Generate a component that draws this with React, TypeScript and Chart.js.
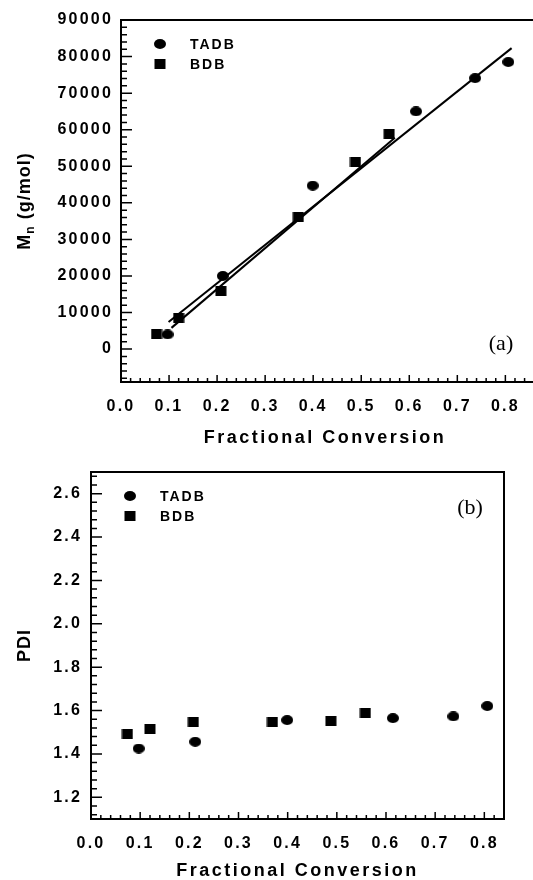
import React, { useEffect, useRef } from "react";
import { Chart, registerables } from "chart.js";

Chart.register(...registerables);

// ---- data ----
const conversionTADB = [0.097, 0.212, 0.399, 0.614, 0.737, 0.806];
const conversionBDB = [0.074, 0.12, 0.208, 0.369, 0.488, 0.558];
const mnTADB = [4000, 20000, 44700, 65000, 74100, 78500];
const mnBDB = [4000, 8500, 16000, 36100, 51100, 58800];
const pdiTADB = [1.425, 1.456, 1.556, 1.565, 1.573, 1.621];
const pdiBDB = [1.493, 1.514, 1.545, 1.545, 1.554, 1.591];

// linear fit lines (end points as drawn)
const fitTADBx = [0.099, 0.813];
const fitTADBy = [7420, 82300];
const fitBDBx = [0.105, 0.57];
const fitBDBy = [5800, 57800];

// tick labels
const xTickValues = [0, 0.1, 0.2, 0.3, 0.4, 0.5, 0.6, 0.7, 0.8];
const xTickLabels = ["0.0", "0.1", "0.2", "0.3", "0.4", "0.5", "0.6", "0.7", "0.8"];
const mnTickValues = [0, 10000, 20000, 30000, 40000, 50000, 60000, 70000, 80000, 90000];
const mnTickLabels = ["0", "10000", "20000", "30000", "40000", "50000", "60000", "70000", "80000", "90000"];
const pdiTickValues = [1.2, 1.4, 1.6, 1.8, 2.0, 2.2, 2.4, 2.6];
const pdiTickLabels = ["1.2", "1.4", "1.6", "1.8", "2.0", "2.2", "2.4", "2.6"];

const seriesNames = ["TADB", "BDB"];

const SANS = '"Liberation Sans", Arial, Helvetica, sans-serif';
const SERIF = '"Liberation Serif", "Times New Roman", serif';

function makeMarker(kind: string) {
  const c = document.createElement("canvas");
  c.width = 12;
  c.height = 10;
  const ctx = c.getContext("2d")!;
  ctx.fillStyle = "#000";
  if (kind === "ellipse") {
    ctx.beginPath();
    ctx.ellipse(6, 5, 6, 5, 0, 0, Math.PI * 2);
    ctx.fill();
  } else {
    ctx.fillRect(0.5, 0, 11, 10);
  }
  return c;
}

type DecorCfg = {
  xMinor: number;
  xMajorEvery: number;
  yMinor: number;
  yMajorEvery: number;
  fullFrame: boolean;
  xTitleDy: number;
  yTitleX: number;
  yTitle: "mn" | "pdi";
  panel: string;
  panelPos: (a: any) => [number, number];
  legendDx: number;
  legendTop: number;
  markers: HTMLCanvasElement[];
  xTitleCx?: number;
};

function decorPlugin(cfg: DecorCfg) {
  return {
    id: "decor",
    beforeDraw(chart: any) {
      (chart.ctx as any).letterSpacing = "2.2px";
    },
    afterDraw(chart: any) {
      const ctx = chart.ctx as CanvasRenderingContext2D;
      const a = chart.chartArea;
      const xs = chart.scales.x;
      const ys = chart.scales.y;
      ctx.save();
      ctx.strokeStyle = "#000";
      ctx.lineWidth = 2;
      ctx.beginPath();
      if (cfg.fullFrame) {
        ctx.rect(a.left, a.top, a.right - a.left, a.bottom - a.top);
      } else {
        ctx.moveTo(a.right + 5, a.top);
        ctx.lineTo(a.left, a.top);
        ctx.lineTo(a.left, a.bottom);
        ctx.lineTo(a.right + 5, a.bottom);
      }
      ctx.stroke();

      // ticks (inward)
      ctx.lineWidth = 1.5;
      ctx.beginPath();
      const kx0 = Math.ceil(xs.min / cfg.xMinor - 1e-6);
      const kx1 = Math.floor(xs.max / cfg.xMinor + 1e-6);
      for (let k = kx0; k <= kx1; k++) {
        const px = xs.getPixelForValue(k * cfg.xMinor);
        const len = k % cfg.xMajorEvery === 0 ? 7 : 4;
        ctx.moveTo(px, a.bottom);
        ctx.lineTo(px, a.bottom - len);
      }
      const ky0 = Math.ceil(ys.min / cfg.yMinor - 1e-6);
      const ky1 = Math.floor(ys.max / cfg.yMinor + 1e-6);
      for (let k = ky0; k <= ky1; k++) {
        const py = ys.getPixelForValue(k * cfg.yMinor);
        const len = k % cfg.yMajorEvery === 0 ? 11 : 6;
        ctx.moveTo(a.left, py);
        ctx.lineTo(a.left + len, py);
      }
      ctx.stroke();

      // x title
      ctx.fillStyle = "#000";
      (ctx as any).letterSpacing = "2.5px";
      ctx.font = `bold 18px ${SANS}`;
      ctx.textAlign = "center";
      ctx.textBaseline = "middle";
      const cx = cfg.xTitleCx !== undefined ? cfg.xTitleCx : (a.left + a.right) / 2;
      ctx.fillText("Fractional Conversion", cx, a.bottom + cfg.xTitleDy);

      // y title
      ctx.save();
      ctx.translate(cfg.yTitleX, (a.top + a.bottom) / 2);
      ctx.rotate(-Math.PI / 2);
      ctx.textAlign = "left";
      (ctx as any).letterSpacing = "1px";
      if (cfg.yTitle === "mn") {
        ctx.font = `bold 18px ${SANS}`;
        const wM = ctx.measureText("M").width;
        const rest = " (g/mol)";
        const wR = ctx.measureText(rest).width;
        ctx.font = `bold 12px ${SANS}`;
        const wn = ctx.measureText("n").width;
        const total = wM + wn + wR;
        let x = -total / 2;
        ctx.font = `bold 18px ${SANS}`;
        ctx.fillText("M", x, 0);
        x += wM;
        ctx.font = `bold 12px ${SANS}`;
        ctx.fillText("n", x, 6);
        x += wn;
        ctx.font = `bold 18px ${SANS}`;
        ctx.fillText(rest, x, 0);
      } else {
        ctx.font = `bold 18px ${SANS}`;
        ctx.textAlign = "center";
        ctx.fillText("PDI", 0, 0);
      }
      ctx.restore();

      // legend
      (ctx as any).letterSpacing = "2px";
      ctx.font = `bold 14px ${SANS}`;
      ctx.textAlign = "left";
      ctx.textBaseline = "middle";
      seriesNames.forEach((name, i) => {
        const my = a.top + cfg.legendTop + i * 20;
        const mk = cfg.markers[i];
        ctx.drawImage(mk, a.left + cfg.legendDx - mk.width / 2, my - mk.height / 2);
        ctx.fillText(name, a.left + cfg.legendDx + 30, my + 1);
      });

      // panel label
      (ctx as any).letterSpacing = "0px";
      ctx.font = `22px ${SERIF}`;
      ctx.textAlign = "center";
      const [plx, ply] = cfg.panelPos(a);
      ctx.fillText(cfg.panel, plx, ply);
      ctx.restore();
      (ctx as any).letterSpacing = "0px";
    },
  };
}

const tickFont = { family: SANS, size: 16, weight: "bold" as const };

export default function App() {
  const topRef = useRef<HTMLCanvasElement>(null);
  const botRef = useRef<HTMLCanvasElement>(null);

  useEffect(() => {
    const ell = makeMarker("ellipse");
    const sq = makeMarker("square");

    const scatterDs = (label: string, xs: number[], ys: number[], img: HTMLCanvasElement) => ({
      label,
      data: xs.map((x, i) => ({ x, y: ys[i] })),
      pointStyle: img,
      pointRadius: 6,
      showLine: false,
      backgroundColor: "#000",
      borderColor: "#000",
    });
    const lineDs = (label: string, xs: number[], ys: number[]) => ({
      label,
      data: xs.map((x, i) => ({ x, y: ys[i] })),
      showLine: true,
      pointRadius: 0,
      borderColor: "#000",
      borderWidth: 2,
      fill: false,
    });

    const top = new Chart(topRef.current!, {
      type: "scatter",
      data: {
        datasets: [
          lineDs("TADB fit", fitTADBx, fitTADBy),
          lineDs("BDB fit", fitBDBx, fitBDBy),
          scatterDs("TADB", conversionTADB, mnTADB, ell),
          scatterDs("BDB", conversionBDB, mnBDB, sq),
        ] as any,
      },
      options: {
        animation: false,
        responsive: false,
        events: [],
        layout: { padding: { top: 20, right: 21, left: 0, bottom: 0 } },
        plugins: { legend: { display: false }, tooltip: { enabled: false } },
        scales: {
          x: {
            type: "linear",
            min: 0,
            max: 0.87,
            afterBuildTicks: (s: any) => {
              s.ticks = xTickValues.map((v) => ({ value: v }));
            },
            afterFit: (s: any) => {
              s.height = 78;
            },
            grid: { display: false, drawTicks: false },
            border: { display: false },
            ticks: {
              autoSkip: false,
              maxRotation: 0,
              padding: 15,
              color: "#000",
              font: tickFont,
              callback: (_v: any, i: number) => xTickLabels[i],
            },
          },
          y: {
            type: "linear",
            min: -9000,
            max: 90000,
            afterBuildTicks: (s: any) => {
              s.ticks = mnTickValues.map((v) => ({ value: v }));
            },
            afterFit: (s: any) => {
              s.width = 121;
            },
            grid: { display: false, drawTicks: false },
            border: { display: false },
            ticks: {
              autoSkip: false,
              padding: 8,
              color: "#000",
              font: tickFont,
              callback: (_v: any, i: number) => mnTickLabels[i],
            },
          },
        },
      } as any,
      plugins: [
        decorPlugin({
          xMinor: 0.02,
          xMajorEvery: 5,
          yMinor: 2000,
          yMajorEvery: 5,
          fullFrame: false,
          xTitleDy: 56,
          yTitleX: 25,
          yTitle: "mn",
          panel: "(a)",
          panelPos: (a) => [a.left + 380, a.bottom - 38],
          legendDx: 39,
          legendTop: 24,
          markers: [ell, sq],
          xTitleCx: 325,
        }) as any,
      ],
    });

    const bot = new Chart(botRef.current!, {
      type: "scatter",
      data: {
        datasets: [
          scatterDs("TADB", conversionTADB, pdiTADB, ell),
          scatterDs("BDB", conversionBDB, pdiBDB, sq),
        ] as any,
      },
      options: {
        animation: false,
        responsive: false,
        events: [],
        layout: { padding: { top: 32, right: 29, left: 0, bottom: 0 } },
        plugins: { legend: { display: false }, tooltip: { enabled: false } },
        scales: {
          x: {
            type: "linear",
            min: 0,
            max: 0.84,
            afterBuildTicks: (s: any) => {
              s.ticks = xTickValues.map((v) => ({ value: v }));
            },
            afterFit: (s: any) => {
              s.height = 61;
            },
            grid: { display: false, drawTicks: false },
            border: { display: false },
            ticks: {
              autoSkip: false,
              maxRotation: 0,
              padding: 15,
              color: "#000",
              font: tickFont,
              callback: (_v: any, i: number) => xTickLabels[i],
            },
          },
          y: {
            type: "linear",
            min: 1.1,
            max: 2.7,
            afterBuildTicks: (s: any) => {
              s.ticks = pdiTickValues.map((v) => ({ value: v }));
            },
            afterFit: (s: any) => {
              s.width = 91;
            },
            grid: { display: false, drawTicks: false },
            border: { display: false },
            ticks: {
              autoSkip: false,
              padding: 9,
              color: "#000",
              font: tickFont,
              callback: (_v: any, i: number) => pdiTickLabels[i],
            },
          },
        },
      } as any,
      plugins: [
        decorPlugin({
          xMinor: 0.02,
          xMajorEvery: 5,
          yMinor: 0.04,
          yMajorEvery: 5,
          fullFrame: true,
          xTitleDy: 52,
          yTitleX: 25,
          yTitle: "pdi",
          panel: "(b)",
          panelPos: (a) => [a.right - 34, a.top + 36],
          legendDx: 39,
          legendTop: 24,
          markers: [ell, sq],
        }) as any,
      ],
    });

    return () => {
      top.destroy();
      bot.destroy();
    };
  }, []);

  return (
    <div
      style={{
        position: "absolute",
        left: 0,
        top: 0,
        width: 533,
        height: 880,
        overflow: "hidden",
        background: "#fff",
      }}
    >
      <canvas ref={topRef} width={560} height={460} style={{ position: "absolute", left: 0, top: 0 }} />
      <canvas ref={botRef} width={533} height={440} style={{ position: "absolute", left: 0, top: 440 }} />
    </div>
  );
}
